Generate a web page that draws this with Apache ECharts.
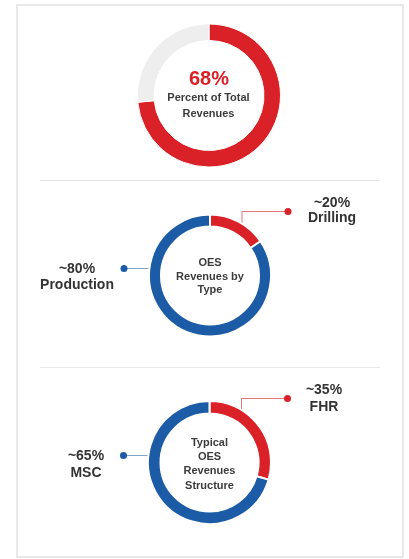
<!DOCTYPE html>
<html>
<head>
<meta charset="utf-8">
<script src="https://cdn.jsdelivr.net/npm/echarts@6/dist/echarts.min.js"></script>
<style>
  html, body { margin: 0; padding: 0; background: #fff; }
</style>
</head>
<body>
<div id="main" style="width: 409px; height: 559px;"></div>
<script>
    // values (labels are the rounded figures printed on the chart)
    var totalCats = ['OES', 'Other'];
    var totalValues = [73.5, 26.5];
    var totalLabel = '68%';

    var typeCats = ['Drilling', 'Production'];
    var typeValues = [15.5, 84.5];
    var typeLabels = ['~20%', '~80%'];

    var structCats = ['FHR', 'MSC'];
    var structValues = [29.5, 70.5];
    var structLabels = ['~35%', '~65%'];

    var RED = '#da2128';
    var BLUE = '#1c5ca7';
    var GREY = '#eeeeee';
    var FONT = 'Liberation Sans, Arial, sans-serif';

    var chartDom = document.getElementById('main');
    var myChart = echarts.init(chartDom);

    // donut geometry
    var g1 = { cx: 209, cy: 95.5, r0: 55, r: 71.5 };
    var g2 = { cx: 210, cy: 275.5, r0: 49, r: 61 };
    var g3 = { cx: 209.5, cy: 462.5, r0: 49, r: 61.5 };

    // where the side texts sit
    var textPos2 = [[332, 210.5], [77, 277]];
    var textPos3 = [[324, 399], [86, 464.5]];

    function items(cats, values, colors) {
        return cats.map(function (c, i) {
            return { name: c, value: values[i], itemStyle: { color: colors[i] } };
        });
    }

    // red label goes straight up then right, blue label goes straight left
    function dotLayout(g) {
        return function (p) {
            var x0, y0, yl, xd;
            if (p.dataIndex === 0) {
                x0 = g.cx + 32;
                y0 = g.cy - Math.sqrt(g.r * g.r - 32 * 32);
                yl = g.cy - 64;
                xd = g.cx + 78;
                return { x: xd, y: yl, align: 'center', verticalAlign: 'middle',
                    labelLinePoints: [[x0, y0], [x0, yl], [xd, yl]] };
            }
            yl = g.cy - 7;
            xd = g.cx - 86;
            x0 = g.cx - Math.sqrt(g.r * g.r - 49);
            return { x: xd, y: yl, align: 'center', verticalAlign: 'middle',
                labelLinePoints: [[x0, yl], [(x0 + xd) / 2, yl], [xd, yl]] };
        };
    }

    function textLayout(pos) {
        return function (p) {
            return { x: pos[p.dataIndex][0], y: pos[p.dataIndex][1], align: 'center', verticalAlign: 'middle' };
        };
    }

    function donutPair(g, cats, values, labels, pos, lh) {
        var colors = [RED, BLUE];
        var lineColors = ['#e2767a', '#7fa3cb'];
        return [
            {
                type: 'pie',
                center: [g.cx, g.cy],
                radius: [g.r0, g.r],
                startAngle: 90,
                avoidLabelOverlap: false,
                silent: true,
                itemStyle: { borderColor: '#fff', borderWidth: 2 },
                data: items(cats, values, colors).map(function (d, i) {
                    d.labelLine = { lineStyle: { color: lineColors[i] } };
                    d.label = { rich: { dot: { width: 7, height: 7, borderRadius: 3.5, backgroundColor: colors[i] } } };
                    return d;
                }),
                label: { show: true, formatter: '{dot|}' },
                labelLine: { show: true, length: 10, length2: 10, smooth: false, lineStyle: { width: 1 } },
                labelLayout: dotLayout(g),
                z: 3
            },
            {
                type: 'pie',
                center: [g.cx, g.cy],
                radius: [g.r0, g.r],
                startAngle: 90,
                avoidLabelOverlap: false,
                silent: true,
                itemStyle: { color: 'rgba(0,0,0,0)' },
                data: items(cats, values, ['rgba(0,0,0,0)', 'rgba(0,0,0,0)']),
                label: {
                    show: true,
                    formatter: function (p) { return labels[p.dataIndex] + '\n' + p.name; },
                    fontFamily: FONT,
                    fontWeight: 'bold',
                    fontSize: 14,
                    lineHeight: lh,
                    color: '#333',
                    align: 'center'
                },
                labelLine: { show: false },
                labelLayout: textLayout(pos),
                z: 4
            }
        ];
    }

    var centerText = { fontFamily: FONT, fontWeight: 'bold', fontSize: 11, color: '#3c3c3c' };

    var option = {
        animation: false,
        graphic: [
            { type: 'rect', z: -10, shape: { x: 17, y: 5, width: 386, height: 552 },
              style: { fill: '#fff', stroke: '#e2e2e2', lineWidth: 1.5 } },
            { type: 'line', z: -9, shape: { x1: 40, y1: 180.5, x2: 380, y2: 180.5 },
              style: { stroke: '#e6e6e6', lineWidth: 1 } },
            { type: 'line', z: -9, shape: { x1: 40, y1: 367.5, x2: 380, y2: 367.5 },
              style: { stroke: '#e6e6e6', lineWidth: 1 } }
        ],
        title: [
            { text: totalLabel, left: 209, top: 68, padding: 0, textAlign: 'center',
              textStyle: { fontFamily: FONT, fontWeight: 'bold', fontSize: 20, lineHeight: 22, color: RED } },
            { text: 'Percent of Total\nRevenues', left: 208.5, top: 89.4, padding: 0, textAlign: 'center',
              textStyle: Object.assign({ lineHeight: 16.6, color: '#333' }, centerText) },
            { text: 'OES\nRevenues by\nType', left: 210, top: 256.5, padding: 0, textAlign: 'center',
              textStyle: Object.assign({ lineHeight: 13.5 }, centerText) },
            { text: 'Typical\nOES\nRevenues\nStructure', left: 209.5, top: 435.5, padding: 0, textAlign: 'center',
              textStyle: Object.assign({ lineHeight: 14.3 }, centerText) }
        ],
        series: [
            {
                type: 'pie',
                center: [g1.cx, g1.cy],
                radius: [g1.r0, g1.r],
                startAngle: 90,
                silent: true,
                label: { show: false },
                labelLine: { show: false },
                itemStyle: { borderColor: '#fff', borderWidth: 1 },
                data: items(totalCats, totalValues, [RED, GREY])
            }
        ].concat(donutPair(g2, typeCats, typeValues, typeLabels, textPos2, 15.6))
         .concat(donutPair(g3, structCats, structValues, structLabels, textPos3, 17))
    };

    option && myChart.setOption(option);
</script>
</body>
</html>
